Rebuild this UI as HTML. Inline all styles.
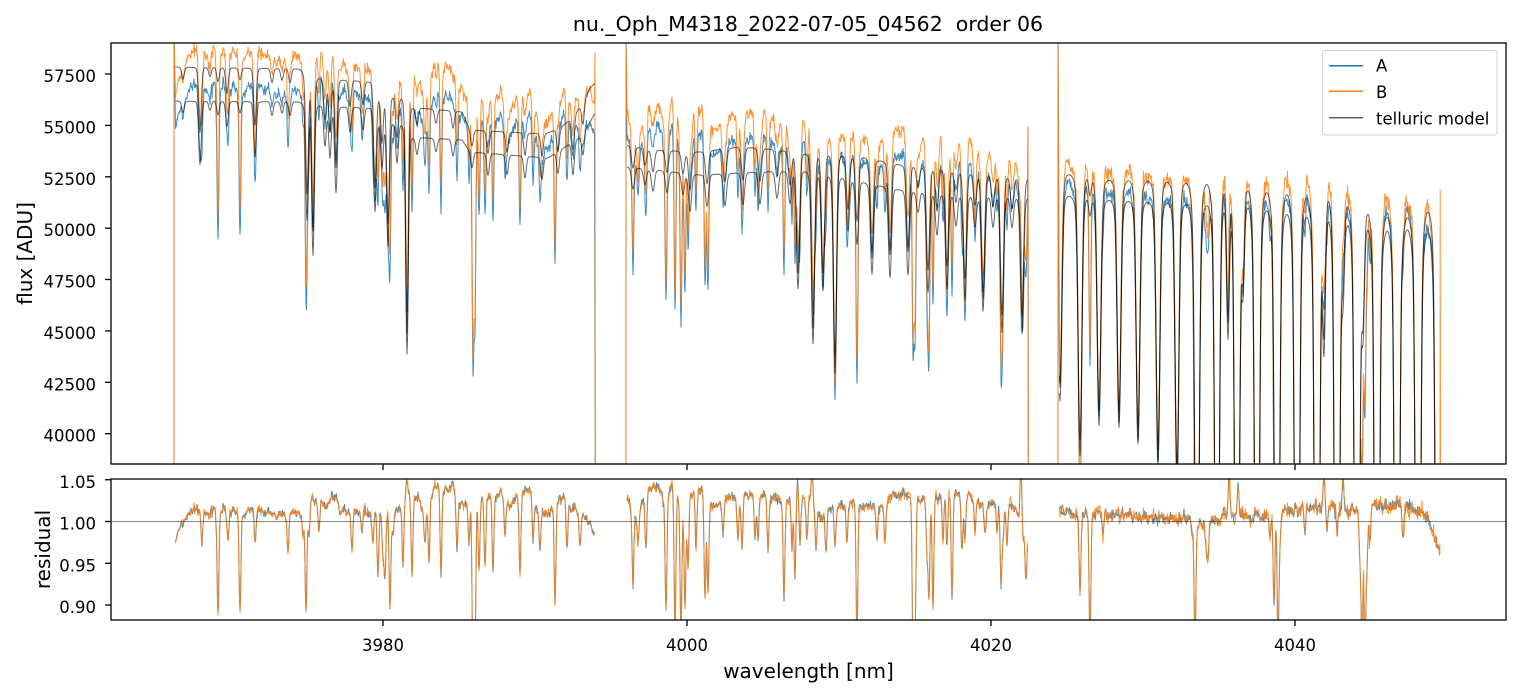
<!DOCTYPE html>
<html><head><meta charset="utf-8">
<style>html,body{margin:0;padding:0;background:#fff;}svg{display:block;}</style>
</head>
<body>
<svg id="fig" width="1520" height="696" viewBox="0 0 1520 696" xmlns="http://www.w3.org/2000/svg" font-family="DejaVu Sans, Liberation Sans, sans-serif">
<rect width="1520" height="696" fill="#ffffff"/>
<defs>
<clipPath id="c1"><rect x="111" y="43" width="1395" height="421"/></clipPath>
<clipPath id="c2"><rect x="111" y="479" width="1395" height="141"/></clipPath>
</defs>
<g clip-path="url(#c1)" fill="none" stroke-linejoin="round">
<path id="pA" stroke="#1f77b4" stroke-opacity="0.85" stroke-width="1"/>
<path id="pB" stroke="#ff7f0e" stroke-opacity="0.85" stroke-width="1"/>
<path id="mA" stroke="#000000" stroke-opacity="0.6" stroke-width="1"/>
<path id="mB" stroke="#000000" stroke-opacity="0.6" stroke-width="1"/>
</g>
<g clip-path="url(#c2)" fill="none" stroke-linejoin="round">
<path id="rA" stroke="#1f77b4" stroke-opacity="0.85" stroke-width="1"/>
<path id="rB" stroke="#ff7f0e" stroke-opacity="0.85" stroke-width="1"/>
<line x1="111" x2="1506" y1="521.5" y2="521.5" stroke="#333333" stroke-opacity="0.8" stroke-width="0.8"/>
</g>

<rect x="111" y="43" width="1395" height="421" fill="none" stroke="#000" stroke-width="1.3"/>
<rect x="111" y="479" width="1395" height="141" fill="none" stroke="#000" stroke-width="1.3"/>

<g stroke="#000" stroke-width="1.3">
<line x1="105" x2="111" y1="433.7" y2="433.7"/>
<line x1="105" x2="111" y1="382.3" y2="382.3"/>
<line x1="105" x2="111" y1="330.9" y2="330.9"/>
<line x1="105" x2="111" y1="279.5" y2="279.5"/>
<line x1="105" x2="111" y1="228.2" y2="228.2"/>
<line x1="105" x2="111" y1="176.8" y2="176.8"/>
<line x1="105" x2="111" y1="125.4" y2="125.4"/>
<line x1="105" x2="111" y1="74" y2="74"/>
<line x1="105" x2="111" y1="479.75" y2="479.75"/>
<line x1="105" x2="111" y1="521.5" y2="521.5"/>
<line x1="105" x2="111" y1="563.25" y2="563.25"/>
<line x1="105" x2="111" y1="605" y2="605"/>
<line x1="383" x2="383" y1="464" y2="470"/>
<line x1="687" x2="687" y1="464" y2="470"/>
<line x1="991" x2="991" y1="464" y2="470"/>
<line x1="1295" x2="1295" y1="464" y2="470"/>
<line x1="383" x2="383" y1="620" y2="626"/>
<line x1="687" x2="687" y1="620" y2="626"/>
<line x1="991" x2="991" y1="620" y2="626"/>
<line x1="1295" x2="1295" y1="620" y2="626"/>
</g>

<g font-size="16.5" fill="#000" text-anchor="end">
<text x="96" y="441.7">40000</text>
<text x="96" y="390.3">42500</text>
<text x="96" y="338.9">45000</text>
<text x="96" y="287.5">47500</text>
<text x="96" y="236.2">50000</text>
<text x="96" y="184.8">52500</text>
<text x="96" y="133.4">55000</text>
<text x="96" y="82">57500</text>
<text x="96" y="487.75">1.05</text>
<text x="96" y="529.5">1.00</text>
<text x="96" y="571.25">0.95</text>
<text x="96" y="613">0.90</text>
</g>
<g font-size="16.5" fill="#000" text-anchor="middle">
<text x="383" y="651">3980</text>
<text x="687" y="651">4000</text>
<text x="991" y="651">4020</text>
<text x="1295" y="651">4040</text>
</g>

<text x="808" y="31" font-size="20.5" text-anchor="middle" fill="#000" xml:space="preserve" style="white-space:pre">nu._Oph_M4318_2022-07-05_04562&#160; order 06</text>
<text x="808.5" y="678" font-size="20" text-anchor="middle" fill="#000">wavelength [nm]</text>
<text transform="translate(32,253.5) rotate(-90)" font-size="20" text-anchor="middle" fill="#000">flux [ADU]</text>
<text transform="translate(50,549.5) rotate(-90)" font-size="20" text-anchor="middle" fill="#000">residual</text>

<rect x="1322.5" y="50.5" width="174.5" height="84.5" rx="3" ry="3" fill="#ffffff" fill-opacity="0.85" stroke="#d0d0d0" stroke-width="1"/>
<line x1="1329" x2="1363" y1="65.7" y2="65.7" stroke="#1f77b4" stroke-width="1.5"/>
<line x1="1329" x2="1363" y1="91.3" y2="91.3" stroke="#ff7f0e" stroke-width="1.5"/>
<line x1="1329" x2="1363" y1="117.7" y2="117.7" stroke="#000" stroke-opacity="0.6" stroke-width="1.5"/>
<g font-size="16.5" fill="#000">
<text x="1376" y="71.7">A</text>
<text x="1376" y="98">B</text>
<text x="1376" y="124.7">telluric model</text>
</g>
</svg>

<script>
(function(){
var seed=1234567;
function R(){seed|=0;seed=seed+0x6D2B79F5|0;var t=Math.imul(seed^seed>>>15,1|seed);t=t+Math.imul(t^t>>>7,61|t)^t;return((t^t>>>14)>>>0)/4294967296;}
function gauss(){var u=R()||1e-9,v=R();return Math.sqrt(-2*Math.log(u))*Math.cos(2*Math.PI*v);}
function interp(p,x){if(x<=p[0][0])return p[0][1];for(var i=1;i<p.length;i++){if(x<=p[i][0]){var a=p[i-1],b=p[i];return a[1]+(b[1]-a[1])*(x-a[0])/(b[0]-a[0]);}}return p[p.length-1][1];}
function vTop(y){return 57500-(y-74)*48.65;}
function yTop(v){var y=74+(57500-v)/48.65;if(y<-20)y=-20;if(y>520)y=520;return y;}
function yRes(r){var y=521.5-(r-1)*835;if(y<440)y=440;if(y>660)y=660;return y;}

var segs=[
{x0:175.5,x1:594.5,s:1.8,wf:0.08,wg:2,nA:0.0022,nB:0.0022,
Bc:[[175,67],[300,69],[310,78],[372,82],[378,97],[402,99],[410,107],[462,112],[470,130],[545,134],[560,128],[570,120],[580,107],[590,88],[595,83]],
Ac:[[175,101],[300,102],[310,106],[372,108],[378,123],[405,126],[410,137],[462,140],[470,152],[548,158],[565,147],[580,137],[590,122],[595,113]],
tell:[[183,0.01],[200,0.055],[210,0.008],[218,0.012],[227,0.022],[240,0.01],[255,0.048],[272,0.012],[282,0.01],[290,0.012],[307,0.10],[313,0.13],[325,0.035],[330,0.045],[336,0.075],[350,0.022],[363,0.02],[375,0.085],[382,0.04],[388,0.11],[397,0.035],[407,0.20],[417,0.015],[436,0.012],[453,0.015],[472,0.014],[488,0.02],[507,0.018],[525,0.02],[542,0.02],[558,0.02],[573,0.03],[583,0.02]],
S0:[[175,0.975],[180,0.995],[190,1.012],[200,1.015],[215,1.012],[300,1.01],[312,1.03],[320,1.02],[335,1.03],[340,1.012],[370,1.01],[398,1.012],[405,1.035],[418,1.03],[424,1.01],[432,1.04],[453,1.04],[460,1.02],[482,1.03],[500,1.03],[510,1.02],[517,1.03],[528,1.04],[535,1.02],[550,1.01],[560,1.03],[575,1.015],[585,1.005],[594,0.99]],
star:[[202,0.976],[218,0.89],[228,0.976],[240,0.89],[255,0.976],[288,0.967],[303,0.98],[306,0.89],[309,0.985],[319,0.985],[352,0.96],[362,0.985],[373,0.975],[378,0.935],[383,0.955],[385,0.935],[390,0.898],[393,0.985],[403,0.95],[407,1.05],[412,0.94],[425,0.977],[429,0.956],[441,0.938],[457,0.97],[469,0.97],[473,0.82],[475,0.85],[479,0.94],[485,0.945],[493,0.94],[505,0.98],[520,0.94],[533,0.98],[540,0.97],[555,0.90],[567,0.965],[580,0.97]]},
{x0:627,x1:1027.5,s:2.1,wf:0.12,wg:2.5,nA:0.0024,nB:0.0026,
Bc:[[627,145],[650,150],[700,152],[740,147],[780,150],[800,154],[860,157],[900,165],[950,172],[1000,178],[1028,180]],
Ac:[[627,167],[700,175],[760,172],[800,171],[850,180],[900,190],[950,197],[1028,199]],
tell:[[633,0.02],[645,0.015],[653,0.02],[667,0.02],[683,0.02],[690,0.035],[707,0.03],[725,0.03],[743,0.03],[760,0.03],[777,0.025],[790,0.03],[798,0.11],[813,0.16],[823,0.11],[835,0.185],[848,0.05],[857,0.06],[872,0.085],[890,0.085],[908,0.08],[918,0.02],[928,0.095],[937,0.04],[947,0.09],[956,0.03],[965,0.10],[975,0.03],[983,0.11],[993,0.03],[1002,0.13],[1012,0.03],[1022,0.13]],
S0:[[627,1.025],[633,1.01],[640,1.015],[648,1.04],[658,1.04],[665,1.02],[672,1.045],[680,1.02],[690,1.03],[700,1.035],[712,1.02],[720,1.02],[735,1.03],[750,1.035],[765,1.03],[777,1.03],[788,1.02],[798,1.04],[805,1.02],[812,1.03],[820,1.005],[830,1.015],[845,1.02],[860,1.02],[880,1.02],[893,1.03],[900,1.028],[908,1.03],[920,1.028],[940,1.032],[955,1.032],[967,1.035],[980,1.02],[990,1.02],[1000,1.02],[1015,1.02],[1027,0.985]],
star:[[633,0.926],[638,0.975],[646,0.97],[666,0.894],[675,0.87],[681,0.87],[685,0.9],[688,0.94],[696,0.96],[705,0.906],[708,0.915],[723,0.985],[738,0.98],[742,0.964],[755,0.98],[758,0.975],[768,0.965],[784,0.906],[792,0.972],[795,0.935],[797,1.05],[800,0.975],[807,0.978],[812,1.06],[816,0.966],[826,0.963],[835,0.972],[847,0.975],[857,0.86],[877,0.98],[885,0.975],[913,0.85],[915,0.86],[927,0.965],[929,0.908],[933,0.90],[943,0.975],[947,0.97],[952,0.908],[962,0.965],[965,0.975],[975,0.99],[985,0.985],[997,0.985],[1001,0.93],[1003,0.98],[1007,0.97],[1021,1.06],[1023,0.98],[1026,0.93]]},
{x0:1059.5,x1:1440,s:2.4,wf:0.2,wg:3,nA:0.003,nB:0.0042,
Bc:[[1059,173],[1100,180],[1200,183],[1240,190],[1290,195],[1320,200],[1340,203],[1360,212],[1380,217],[1410,218],[1425,212],[1440,212]],
Ac:[[1059,195],[1100,200],[1200,205],[1250,208],[1290,215],[1310,218],[1360,228],[1380,233],[1400,228],[1420,233],[1440,233]],
tell:[[1060,0.2],[1080,0.25],[1099,0.22],[1119,0.22],[1138,0.235],[1158,0.255],[1177,0.275],[1197,0.5],[1217,0.55],[1237,0.6],[1257,0.6],[1277,0.65],[1297,0.65],[1317,0.7],[1337,0.7],[1357,0.7],[1377,0.7],[1397,0.7],[1418,0.7],[1438,0.7],[1090,0.02,1.8],[1228,0.14,1.8],[1243,0.08,1.8],[1324,0.13,1.8],[1343,0.07,1.8],[1363,0.1,1.8]],
S0:[[1059,1.012],[1075,1.008],[1100,1.008],[1150,1.005],[1190,1.003],[1215,1.002],[1228,1.008],[1260,1.006],[1285,1.012],[1300,1.015],[1330,1.018],[1350,1.015],[1375,1.02],[1400,1.02],[1420,1.012],[1430,1.0],[1436,0.975],[1440,0.96]],
star:[[1080,0.913],[1090,0.85],[1103,0.98],[1192,0.98],[1195,0.85],[1198,0.99],[1202,0.99],[1206,0.975],[1208,0.96],[1229,1.06],[1238,1.045],[1270,0.98],[1274,0.90],[1278,0.85],[1280,0.975],[1305,0.985],[1324,1.05],[1327,0.99],[1337,0.985],[1343,1.05],[1360,0.965],[1362,0.85],[1365,0.85],[1367,0.96],[1370,0.98],[1403,0.98],[1432,0.985],[1435,0.98]]}
];

var dA=[],dB=[],dmA=[],dmB=[],drA=[],drB=[];
segs.forEach(function(seg,si){
  var xs=[],T=[],i,j,k,x;
  for(x=seg.x0;x<=seg.x1+1e-6;x+=0.5)xs.push(x);
  var n=xs.length;
  var wf=seg.wf,wg2=seg.wg*seg.wg;
  for(i=0;i<n;i++){x=xs[i];var tau=0;
    for(j=0;j<seg.tell.length;j++){var L=seg.tell[j],dx=x-L[0];if(dx>40||dx<-40)continue;var s=L[2]||seg.s;var t0=-Math.log(1-L[1]);tau+=t0*((1-wf)*Math.exp(-(dx/s)*(dx/s))+wf/(1+dx*dx/wg2));}
    T.push(Math.exp(-tau));}
  var M=[];for(i=0;i<n;i++){var m=0;for(k=Math.max(0,i-20);k<=Math.min(n-1,i+20);k++)if(T[k]>m)m=T[k];M.push(m);}
  var Ms=[];for(i=0;i<n;i++){var sm=0,c=0;for(k=Math.max(0,i-16);k<=Math.min(n-1,i+16);k++){sm+=M[k];c++;}Ms.push(sm/c);}
  var sd=seg.star.map(function(st){return [st[0],1-st[1]/interp(seg.S0,st[0])];});
  var pa=[],pb=[],ma=[],mb=[],ra=[],rb=[],ns=0;
  for(i=0;i<n;i++){x=xs[i];
    var bc=vTop(interp(seg.Bc,x)),ac=vTop(interp(seg.Ac,x));
    var tn=T[i]/Ms[i];
    var mB=bc*tn,mA=ac*tn;
    var s0=interp(seg.S0,x),Ls=1;
    for(j=0;j<sd.length;j++){var ddx=x-sd[j][0];if(ddx>8||ddx<-8)continue;Ls*=1-sd[j][1]*Math.exp(-(ddx/1.25)*(ddx/1.25));}
    ns=0.75*ns+0.25*gauss()*0.007;
    var resA=s0*Ls*(1+ns+seg.nA*gauss()),resB=s0*Ls*(1+ns+seg.nB*gauss());
    var xf=x.toFixed(1);
    pa.push(xf+","+yTop(mA*resA).toFixed(1));
    pb.push(xf+","+yTop(mB*resB).toFixed(1));
    ma.push(xf+","+yTop(mA).toFixed(1));
    mb.push(xf+","+yTop(mB).toFixed(1));
    ra.push(xf+","+yRes(resA).toFixed(1));
    rb.push(xf+","+yRes(resB).toFixed(1));
  }
  var preA,preB,postA,postB;
  if(si===0){preA=preB="M174,480 L174,30 L";postA=" L595.3,480";postB=" L595,52 L595.3,480";}
  else if(si===1){preA=preB="M626,480 L626,30 L";postA=postB=" L1028,127 L1028.3,480";}
  else {preA=preB="M1058,480 L1058,30 L";postA=" L1440.3,480";postB=" L1440.2,190 L1440.5,480";}
  dA.push(preA+pa.join(" L")+postA);
  dB.push(preB+pb.join(" L")+postB);
  dmA.push("M"+ma.join(" L"));
  dmB.push("M"+mb.join(" L"));
  drA.push("M"+ra.join(" L"));
  drB.push("M"+rb.join(" L"));
});
document.getElementById("pA").setAttribute("d",dA.join(" "));
document.getElementById("pB").setAttribute("d",dB.join(" "));
document.getElementById("mA").setAttribute("d",dmA.join(" "));
document.getElementById("mB").setAttribute("d",dmB.join(" "));
document.getElementById("rA").setAttribute("d",drA.join(" "));
document.getElementById("rB").setAttribute("d",drB.join(" "));
})();
</script>
</body></html>
